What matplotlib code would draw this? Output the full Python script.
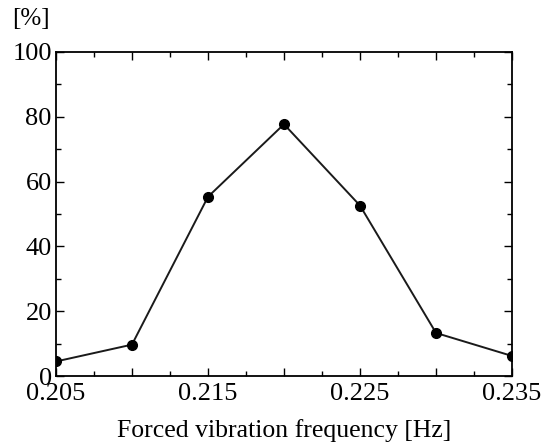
import matplotlib
matplotlib.use("Agg")
import matplotlib.pyplot as plt
from matplotlib.ticker import MultipleLocator, FixedLocator, FuncFormatter

freq = [0.205, 0.210, 0.215, 0.220, 0.225, 0.230, 0.235]
percent = [4.5, 9.7, 55.3, 77.7, 52.6, 13.3, 6.2]
xtick_labels = ["0.205", "0.215", "0.225", "0.235"]
ytick_labels = ["0", "20", "40", "60", "80", "100"]

plt.rcParams['font.family'] = ['Liberation Serif', 'DejaVu Serif']
fig = plt.figure(figsize=(5.43, 4.44), dpi=100)
ax = fig.add_axes([0.103, 0.153, 0.840, 0.730])
ax.plot(freq, percent, color='#1a1a1a', lw=1.4, marker='o', ms=7, mfc='black', mec='black')
ax.set_xlim(0.205, 0.235)
ax.set_ylim(0, 100)

xmajor = [0.205, 0.210, 0.215, 0.220, 0.225, 0.230, 0.235]
ax.xaxis.set_major_locator(FixedLocator(xmajor))
labmap = {round(float(s), 4): s for s in xtick_labels}
ax.xaxis.set_major_formatter(FuncFormatter(lambda v, p: labmap.get(round(v, 4), "")))
ax.xaxis.set_minor_locator(MultipleLocator(0.0025))
ax.yaxis.set_major_locator(FixedLocator([float(s) for s in ytick_labels]))
ax.set_yticklabels(ytick_labels)
ax.yaxis.set_minor_locator(MultipleLocator(10))
ax.tick_params(which='both', direction='in', top=True, right=True, labelsize=19, width=1)
ax.tick_params(which='major', length=6)
ax.tick_params(which='minor', length=3.5)
ax.tick_params(axis='x', pad=5)
ax.tick_params(axis='y', pad=3)
for s in ax.spines.values():
    s.set_linewidth(1.3)
ax.set_xlabel("Forced vibration frequency [Hz]", fontsize=18.5, labelpad=10)
fig.text(0.022, 0.958, "[%]", fontsize=18, va='center', ha='left')
fig.savefig("out.png", dpi=100)
